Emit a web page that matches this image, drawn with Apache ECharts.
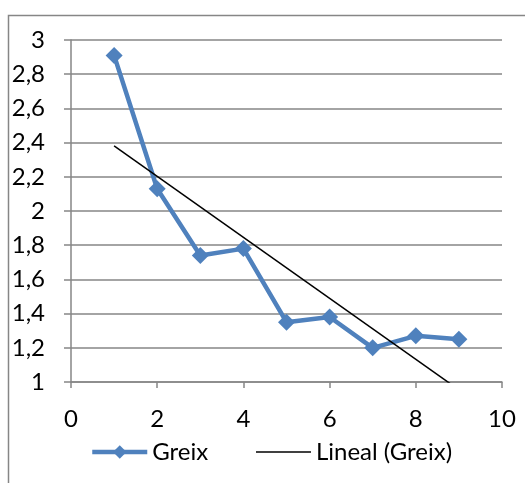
<!DOCTYPE html>
<html>
<head>
<meta charset="utf-8">
<script src="https://cdn.jsdelivr.net/npm/echarts@6/dist/echarts.min.js"></script>
<style>
  html, body { margin: 0; padding: 0; background: #fff; }
  #chart { width: 525px; height: 483px; }
</style>
</head>
<body>
<div id="chart"></div>
<script>
// Measurements
const xValues = [1, 2, 3, 4, 5, 6, 7, 8, 9];
const greix = [2.91, 2.13, 1.74, 1.78, 1.35, 1.38, 1.20, 1.27, 1.25];
const xTicks = [0, 2, 4, 6, 8, 10];
const yTicks = [1, 1.2, 1.4, 1.6, 1.8, 2, 2.2, 2.4, 2.6, 2.8, 3];

// Least-squares linear fit of the series (the "Lineal" trendline)
function linearFit(xs, ys) {
  const n = xs.length;
  const mx = xs.reduce((a, b) => a + b, 0) / n;
  const my = ys.reduce((a, b) => a + b, 0) / n;
  let sxy = 0, sxx = 0;
  for (let i = 0; i < n; i++) {
    sxy += (xs[i] - mx) * (ys[i] - my);
    sxx += (xs[i] - mx) * (xs[i] - mx);
  }
  const slope = sxy / sxx;
  return { slope, intercept: my - slope * mx };
}
const fit = linearFit(xValues, greix);
const xFirst = xValues[0], xLast = xValues[xValues.length - 1];
const trend = [
  [xFirst, fit.intercept + fit.slope * xFirst],
  [xLast, fit.intercept + fit.slope * xLast]
];

const fmt = v => String(Math.round(v * 10) / 10).replace('.', ',');
const font = 'Lato, "Open Sans", sans-serif';
const gridColor = '#868686';
const fontSize = 24;

const chart = echarts.init(document.getElementById('chart'), null, { renderer: 'canvas' });
chart.setOption({
  animation: false,
  backgroundColor: '#fff',
  textStyle: { fontFamily: font },
  graphic: [{
    type: 'rect',
    shape: { x: 8.5, y: 15.5, width: 700, height: 700 },
    style: { fill: 'none', stroke: gridColor, lineWidth: 1.5 },
    silent: true
  }],
  grid: { left: 71, top: 40, right: 23, bottom: 101 },
  legend: {
    bottom: 14,
    left: 85,
    itemWidth: 55,
    itemHeight: 17,
    itemGap: 47,
    textStyle: { fontFamily: font, fontSize: fontSize, color: '#000' },
    data: [
      { name: 'Greix', lineStyle: { width: 4.5 } },
      { name: 'Lineal (Greix)', itemStyle: { opacity: 0 }, lineStyle: { width: 1.5 } }
    ]
  },
  xAxis: {
    type: 'value',
    min: 0, max: 10, interval: 2,
    axisLine: { show: true, lineStyle: { color: gridColor, width: 1.5 } },
    axisTick: { show: true, length: 6, lineStyle: { color: gridColor, width: 1.5 } },
    splitLine: { show: false },
    axisLabel: {
      margin: 25, fontSize: fontSize, color: '#000', fontFamily: font,
      formatter: v => xTicks.includes(v) ? String(v) : ''
    }
  },
  yAxis: {
    type: 'value',
    min: 1, max: 3, interval: 0.2,
    axisLine: { show: true, lineStyle: { color: gridColor, width: 1.5 } },
    axisTick: { show: true, length: 7, lineStyle: { color: gridColor, width: 1.5 } },
    splitLine: { show: true, lineStyle: { color: gridColor, width: 1.5 } },
    axisLabel: {
      margin: 26, fontSize: fontSize, color: '#000', fontFamily: font,
      formatter: v => fmt(v)
    }
  },
  series: [
    {
      name: 'Greix',
      type: 'line',
      data: xValues.map((x, i) => [x, greix[i]]),
      symbol: 'diamond',
      symbolSize: 17,
      itemStyle: { color: '#4F81BD' },
      lineStyle: { color: '#4F81BD', width: 4.5 },
      z: 3
    },
    {
      name: 'Lineal (Greix)',
      type: 'line',
      data: trend,
      symbol: 'none',
      clip: true,
      itemStyle: { color: '#000' },
      lineStyle: { color: '#000', width: 1.5 },
      z: 4
    }
  ]
});
</script>
</body>
</html>
